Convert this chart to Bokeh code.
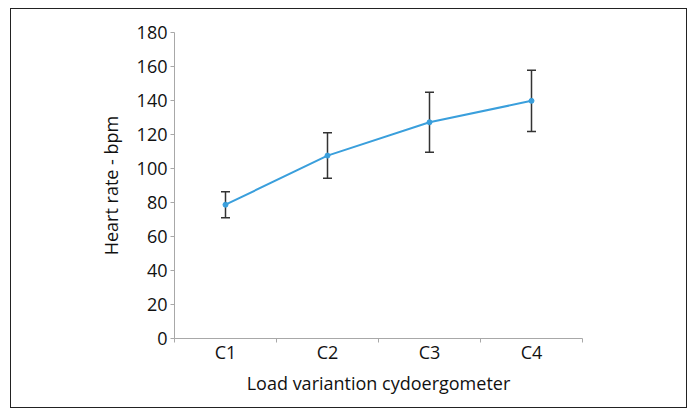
from bokeh.plotting import figure
from bokeh.models import ColumnDataSource, Range1d, FixedTicker, Whisker, TeeHead
from bokeh.embed import file_html
from bokeh.resources import INLINE

categories = ["C1", "C2", "C3", "C4"]
means = [78.7, 107.6, 127.2, 139.8]
sds = [7.6, 13.4, 17.7, 18.0]
y_ticks = [0, 20, 40, 60, 80, 100, 120, 140, 160, 180]

xs = [i + 0.5 for i in range(len(categories))]
src = ColumnDataSource(dict(
    x=xs, y=means,
    upper=[m + s for m, s in zip(means, sds)],
    lower=[m - s for m, s in zip(means, sds)],
))

FONT = "Open Sans"
p = figure(width=677, height=400, output_backend="svg", toolbar_location=None,
           x_range=Range1d(0, len(categories)), y_range=Range1d(0, 180),
           min_border_left=163, min_border_right=106, min_border_top=23, min_border_bottom=71)
p.styles = {"border": "1px solid #222", "margin-left": "10px", "margin-top": "8px"}
p.outline_line_color = None
p.grid.visible = False

w = Whisker(base="x", upper="upper", lower="lower", source=src,
            line_color="#333333", line_width=1.5, level="underlay",
            upper_head=TeeHead(size=9, line_color="#333333", line_width=1.5),
            lower_head=TeeHead(size=9, line_color="#333333", line_width=1.5))
p.add_layout(w)

p.line("x", "y", source=src, line_color="#3a9fdc", line_width=2)
p.scatter("x", "y", source=src, size=5, color="#3a9fdc")

ax = p.xaxis[0]
ax.ticker = FixedTicker(ticks=xs, minor_ticks=list(range(len(categories) + 1)))
ax.major_label_overrides = {x: c for x, c in zip(xs, categories)}
ax.major_tick_out = 0
ax.major_tick_in = 0
ax.minor_tick_out = 4
ax.minor_tick_in = 0
ax.axis_label = "Load variantion cydoergometer"

ay = p.yaxis[0]
ay.ticker = FixedTicker(ticks=y_ticks)
ay.minor_tick_line_color = None
ay.major_tick_out = 4
ay.major_tick_in = 0
ay.axis_label = "Heart rate - bpm"

for a in (ax, ay):
    a.axis_line_color = "#a8a8a8"
    a.major_tick_line_color = "#a8a8a8"
    a.minor_tick_line_color = "#a8a8a8" if a is ax else None
    a.major_label_text_font = FONT
    a.major_label_text_font_size = "18px"
    a.major_label_text_color = "#111111"
    a.axis_label_text_font = FONT
    a.axis_label_text_font_size = "18px"
    a.axis_label_text_font_style = "normal"
    a.axis_label_text_color = "#111111"

ax.major_label_standoff = -3
ax.axis_label_standoff = 4
ay.major_label_standoff = 3
ay.axis_label_standoff = 11

open("out.html", "w").write(file_html(p, INLINE))
